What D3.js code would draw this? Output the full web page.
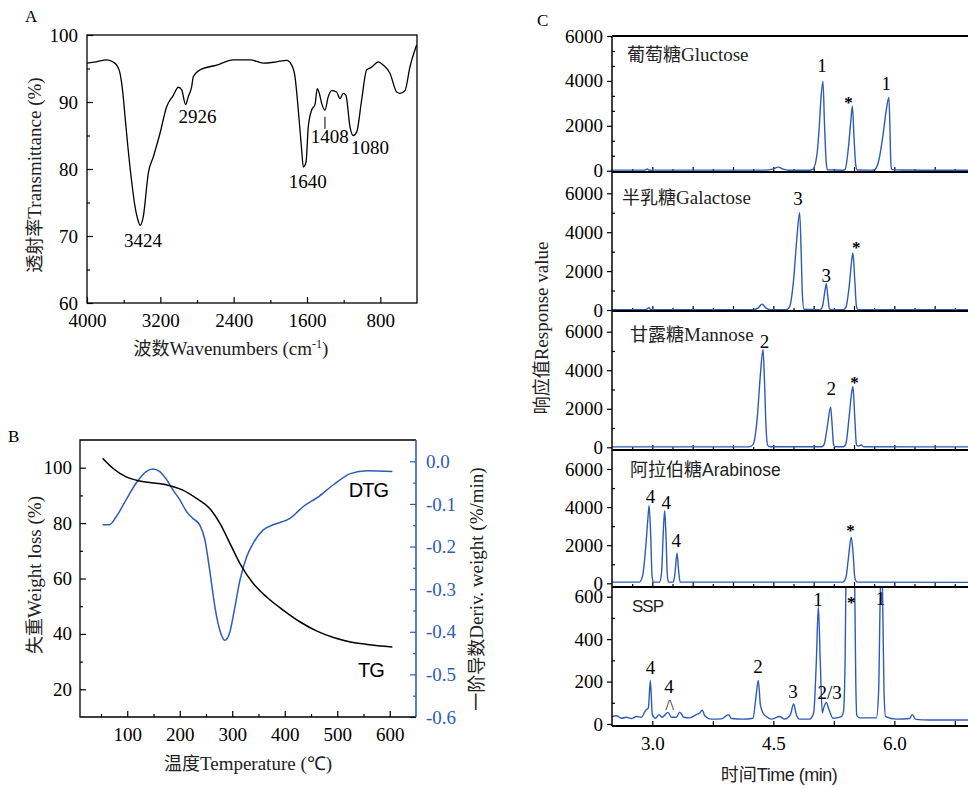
<!DOCTYPE html>
<html>
<head>
<meta charset="utf-8">
<script src="https://cdn.jsdelivr.net/npm/d3@7"></script>
<style>
  body { margin: 0; background: #fff; }
</style>
</head>
<body>
<svg id="chart" width="968" height="788"></svg>
<script>
// ---------- data ----------
// A: FTIR spectrum [wavenumber, transmittance %]
const ftirPoints = [
  [4000, 95.8], [3900, 96.0], [3785, 96.3], [3720, 96.0], [3676, 95.5], [3640, 94.3],
  [3610, 91.5], [3585, 87.8], [3531, 80.3], [3476, 74.4], [3440, 72.2], [3422, 71.6],
  [3386, 72.9], [3331, 79.4], [3277, 81.8], [3204, 85.3], [3131, 89.3], [3058, 91.0],
  [3004, 92.2], [2967, 91.8], [2924, 89.6], [2895, 90.8], [2858, 92.3], [2840, 93.8],
  [2767, 94.8], [2585, 95.5], [2404, 96.3], [2222, 96.3], [2076, 95.8], [1931, 96.0],
  [1822, 96.2], [1767, 95.5], [1731, 93.8], [1695, 88.8], [1658, 82.8], [1640, 80.3],
  [1611, 81.0], [1586, 86.3], [1549, 88.8], [1513, 89.6], [1488, 92.0], [1466, 91.3],
  [1440, 89.8], [1404, 88.8], [1368, 90.8], [1331, 91.7], [1277, 91.5], [1240, 90.5],
  [1204, 91.3], [1175, 91.0], [1131, 86.3], [1095, 85.0], [1058, 85.5], [1004, 90.3],
  [949, 94.8], [895, 95.2], [822, 96.0], [767, 95.5], [695, 94.3], [622, 91.5],
  [585, 91.3], [531, 91.7], [476, 95.3], [422, 97.8], [404, 98.5]
];
const ftirLabels = [["3424", 3389, 68.4], ["2926", 2795, 86.9], ["1640", 1592, 77.2],
                    ["1408", 1351, 83.9], ["1080", 913, 82.2]];
const ftirLeader = [[1404, 87.8], [1404, 86.0]];
const ftirXTicks = [4000, 3200, 2400, 1600, 800];
const ftirXMinor = [3600, 2800, 2000, 1200];
const ftirYTicks = [60, 70, 80, 90, 100];
const ftirYMinor = [65, 75, 85, 95];

// B: thermogravimetry [temperature, value]
const tgPoints = [
  [53, 103.4], [72.5, 99.8], [98, 96.7], [123.5, 95.2], [155.5, 94.4], [181, 93.5],
  [206, 91.9], [232, 88.9], [257, 85.3], [276.5, 79.9], [295.6, 72.7], [314.7, 65.4],
  [340, 58.2], [365.6, 53.3], [397.5, 48.5], [429.4, 44.3], [461.4, 41.0], [493, 38.7],
  [525, 37.1], [557, 36.2], [605, 35.3]
];
const dtgPoints = [
  [53, -0.149], [66, -0.149], [79, -0.130], [98, -0.090], [117, -0.051], [136, -0.024],
  [149, -0.018], [162, -0.024], [175, -0.043], [187, -0.067], [200, -0.090], [213, -0.118],
  [225, -0.134], [238, -0.149], [248, -0.185], [257, -0.255], [267, -0.342], [276.5, -0.397],
  [286, -0.420], [295.6, -0.400], [305, -0.342], [314.7, -0.279], [327.5, -0.224],
  [340, -0.192], [359, -0.161], [378, -0.149], [410, -0.134], [435.5, -0.106],
  [461, -0.086], [493, -0.055], [525, -0.029], [557, -0.022], [605, -0.024]
];
const tgLabels = [["DTG", 522, 89.4], ["TG", 539.5, 24.4]];
const tempTicks = [100, 200, 300, 400, 500, 600];
const tempMinor = [50, 150, 250, 350, 450, 550];
const wlTicks = [20, 40, 60, 80, 100];
const wlMinor = [30, 50, 70, 90];
const dtgTicks = [0, -0.1, -0.2, -0.3, -0.4, -0.5, -0.6];
const dtgMinor = [-0.05, -0.15, -0.25, -0.35, -0.45, -0.55];

// C: chromatograms [time min, response]
const glucoseTrace = [
  [2.50, 25], [2.90, 25], [2.94, 80], [2.96, 20], [3.00, 25], [4.40, 25], [4.50, 80],
  [4.56, 160], [4.62, 70], [4.70, 20], [4.95, 20], [4.99, 60], [5.04, 700], [5.07, 2000],
  [5.09, 3200], [5.115, 3970], [5.135, 2000], [5.155, 400], [5.17, 40], [5.36, 20],
  [5.39, 60], [5.43, 1000], [5.46, 2200], [5.48, 2870], [5.50, 1500], [5.52, 300],
  [5.54, 30], [5.72, 25], [5.76, 60], [5.81, 500], [5.86, 1600], [5.90, 2700],
  [5.932, 3260], [5.945, 2000], [5.955, 500], [5.965, 60], [6.10, 30], [6.50, 20], [7.0, 20]
];
const galactoseTrace = [
  [2.50, 20], [2.92, 20], [2.96, 120], [2.98, 20], [3.00, 20], [4.25, 20], [4.31, 100],
  [4.36, 300], [4.41, 100], [4.46, 20], [4.66, 20], [4.70, 150], [4.75, 1500], [4.79, 3600],
  [4.826, 5000], [4.845, 3000], [4.86, 800], [4.88, 40], [5.08, 20], [5.11, 200],
  [5.14, 1000], [5.157, 1350], [5.175, 700], [5.195, 80], [5.21, 20], [5.37, 20],
  [5.40, 150], [5.44, 1200], [5.47, 2500], [5.487, 2930], [5.51, 1500], [5.53, 200],
  [5.55, 20], [7.0, 15]
];
const mannoseTrace = [
  [2.50, 20], [4.20, 20], [4.25, 150], [4.30, 1500], [4.34, 3800], [4.372, 5070],
  [4.39, 3500], [4.41, 1000], [4.43, 100], [4.46, 30], [5.10, 25], [5.13, 150],
  [5.17, 1100], [5.21, 2090], [5.23, 1100], [5.245, 200], [5.26, 30], [5.37, 25],
  [5.40, 200], [5.44, 1600], [5.47, 2800], [5.487, 3160], [5.51, 1500], [5.53, 150],
  [5.55, 60], [5.59, 120], [5.62, 30], [7.0, 20]
];
const arabinoseTrace = [
  [2.50, 60], [2.84, 60], [2.88, 400], [2.92, 2000], [2.945, 3400], [2.96, 4070],
  [2.98, 2500], [2.995, 500], [3.01, 60], [3.09, 60], [3.115, 600], [3.135, 2600],
  [3.153, 3810], [3.17, 2400], [3.185, 500], [3.20, 60], [3.26, 60], [3.28, 500],
  [3.306, 1580], [3.325, 700], [3.345, 60], [5.36, 60], [5.40, 300], [5.43, 1300],
  [5.466, 2420], [5.49, 1500], [5.51, 300], [5.54, 60], [7.0, 50]
];
const sspTrace = [
  [2.50, 35], [2.554, 39], [2.616, 27], [2.678, 32], [2.740, 26], [2.802, 35], [2.864, 32],
  [2.918, 65], [2.951, 76], [2.975, 205], [3.000, 44], [3.041, 27], [3.083, 44], [3.124, 32],
  [3.194, 55], [3.236, 32], [3.298, 32], [3.339, 56], [3.389, 32], [3.463, 29], [3.545, 44],
  [3.587, 52], [3.620, 65], [3.649, 39], [3.731, 23], [3.855, 24], [3.946, 44], [3.979, 26],
  [4.124, 23], [4.248, 27], [4.281, 116], [4.314, 205], [4.339, 92], [4.372, 52],
  [4.413, 35], [4.475, 23], [4.578, 35], [4.640, 23], [4.711, 44], [4.752, 94], [4.785, 44],
  [4.826, 23], [4.950, 23], [5.000, 52], [5.033, 294], [5.058, 555], [5.082, 294],
  [5.107, 52], [5.124, 76], [5.157, 100], [5.190, 68], [5.240, 27], [5.343, 35],
  [5.370, 60], [5.390, 300], [5.42, 1500], [5.46, 3000], [5.505, 800], [5.522, 200],
  [5.535, 40], [5.570, 29], [5.777, 29], [5.805, 150], [5.825, 600], [5.84, 800],
  [5.855, 600], [5.872, 150], [5.892, 35], [6.024, 23], [6.190, 26], [6.223, 44],
  [6.264, 22], [6.437, 19], [6.909, 19], [7.0, 19]
];
const glucoseLabels = [["1", 5.102, 4400], ["*", 5.433, 2790], ["1", 5.90, 3600]];
const galactoseLabels = [["3", 4.805, 5400], ["3", 5.157, 1460], ["*", 5.529, 2930]];
const mannoseLabels = [["2", 4.392, 5150], ["2", 5.219, 2714], ["*", 5.507, 3077]];
const arabinoseLabels = [["4", 2.976, 4200], ["4", 3.174, 3885], ["4", 3.298, 1921], ["*", 5.458, 2483]];
const sspLabels = [["4", 2.976, 236], ["4", 3.206, 145], ["/\\", 3.215, 66], ["2", 4.309, 242],
                   ["3", 4.743, 121], ["1", 5.053, 556], ["2/3", 5.198, 116], ["*", 5.467, 547],
                   ["1", 5.83, 561]];
const sugarNames = [["葡萄糖", "Gluctose"], ["半乳糖", "Galactose"], ["甘露糖", "Mannose"],
                    ["阿拉伯糖", "Arabinose"], ["", "SSP"]];
const bigYTicks = [0, 2000, 4000, 6000];
const sspYTicks = [0, 200, 400, 600];
const timeLabelTicks = [3.0, 4.5, 6.0];
const timeSspTicks = [3.0, 3.75, 4.5, 5.25, 6.0, 6.75];

// ---------- setup ----------
const SERIF = '"Liberation Serif", "Times New Roman", serif';
const SANS = '"Liberation Sans", Arial, sans-serif';
const CJK = '"Noto Sans CJK SC", sans-serif';
const BLUE = "#2f5bb7";

const svg = d3.select("#chart");
svg.append("rect").attr("width", 968).attr("height", 788).attr("fill", "#fff");

function styleAxis(g, color, fs) {
  g.select(".domain").remove();
  g.attr("font-family", SERIF).attr("font-size", fs || 19);
  g.selectAll("line").attr("stroke", color || "#000").attr("stroke-width", 1.2);
  g.selectAll("text").attr("fill", color || "#000");
}
function panelLetter(x, y, t) {
  svg.append("text").attr("x", x).attr("y", y).attr("font-family", SERIF)
    .attr("font-size", 17).text(t);
}
const plainInt = d3.format("d");
const hyphenDec = d => d3.format(".1f")(d).replace("−", "-");

// ---------- Panel A ----------
const A = { left: 87, right: 417, top: 35, bottom: 303 };
const xA = d3.scaleLinear().domain([4000, 400]).range([A.left, A.right]);
const yA = d3.scaleLinear().domain([60, 100]).range([A.bottom, A.top]);
const gA = svg.append("g");

gA.append("g").attr("transform", `translate(0,${A.bottom})`)
  .call(d3.axisBottom(xA).tickValues(ftirXTicks).tickSize(-6).tickPadding(11).tickFormat(plainInt))
  .call(g => styleAxis(g));
gA.append("g").attr("transform", `translate(0,${A.bottom})`)
  .call(d3.axisBottom(xA).tickValues(ftirXMinor).tickSize(-3).tickFormat(""))
  .call(g => styleAxis(g));
gA.append("g").attr("transform", `translate(${A.left},0)`)
  .call(d3.axisLeft(yA).tickValues(ftirYTicks).tickSize(-6).tickPadding(9).tickFormat(plainInt))
  .call(g => styleAxis(g));
gA.append("g").attr("transform", `translate(${A.left},0)`)
  .call(d3.axisLeft(yA).tickValues(ftirYMinor).tickSize(-3).tickFormat(""))
  .call(g => styleAxis(g));
gA.append("rect").attr("x", A.left).attr("y", A.top)
  .attr("width", A.right - A.left).attr("height", A.bottom - A.top)
  .attr("fill", "none").attr("stroke", "#000").attr("stroke-width", 1.3);

gA.append("path").datum(ftirPoints)
  .attr("fill", "none").attr("stroke", "#000").attr("stroke-width", 1.3)
  .attr("d", d3.line().x(d => xA(d[0])).y(d => yA(d[1])).curve(d3.curveMonotoneX));
gA.append("path").datum(ftirLeader)
  .attr("stroke", "#000").attr("stroke-width", 1)
  .attr("d", d3.line().x(d => xA(d[0])).y(d => yA(d[1])));
gA.selectAll(".flab").data(ftirLabels).join("text")
  .attr("x", d => xA(d[1])).attr("y", d => yA(d[2]))
  .attr("text-anchor", "middle").attr("font-family", SERIF).attr("font-size", 19)
  .text(d => d[0]);

const axA = gA.append("text").attr("x", 231).attr("y", 355).attr("text-anchor", "middle")
  .attr("font-family", SERIF).attr("font-size", 19).attr("fill", "#222");
axA.append("tspan").attr("font-family", CJK).attr("font-size", 18).text("波数");
axA.append("tspan").text("Wavenumbers (cm");
axA.append("tspan").attr("dy", -7).attr("font-size", 12).text("-1");
axA.append("tspan").attr("dy", 7).text(")");
const ayA = gA.append("text").attr("transform", `translate(41,175) rotate(-90)`)
  .attr("text-anchor", "middle").attr("font-family", SERIF).attr("font-size", 19).attr("fill", "#222");
ayA.append("tspan").attr("font-family", CJK).attr("font-size", 18).text("透射率");
ayA.append("tspan").text("Transmittance (%)");
panelLetter(25, 22, "A");

// ---------- Panel B ----------
const B = { left: 80, right: 416, top: 440, bottom: 717 };
const xB = d3.scaleLinear().domain([10, 650]).range([B.left, B.right]);
const yB = d3.scaleLinear().domain([10, 110]).range([B.bottom, B.top]);
const yB2 = d3.scaleLinear().domain([-0.6, 0.05]).range([B.bottom, B.top]);
const gB = svg.append("g");

gB.append("g").attr("transform", `translate(0,${B.bottom})`)
  .call(d3.axisBottom(xB).tickValues(tempTicks).tickSize(-6).tickPadding(11).tickFormat(plainInt))
  .call(g => styleAxis(g));
gB.append("g").attr("transform", `translate(0,${B.bottom})`)
  .call(d3.axisBottom(xB).tickValues(tempMinor).tickSize(-3).tickFormat(""))
  .call(g => styleAxis(g));
gB.append("g").attr("transform", `translate(${B.left},0)`)
  .call(d3.axisLeft(yB).tickValues(wlTicks).tickSize(-6).tickPadding(8).tickFormat(plainInt))
  .call(g => styleAxis(g));
gB.append("g").attr("transform", `translate(${B.left},0)`)
  .call(d3.axisLeft(yB).tickValues(wlMinor).tickSize(-3).tickFormat(""))
  .call(g => styleAxis(g));
gB.append("g").attr("transform", `translate(${B.right},0)`)
  .call(d3.axisRight(yB2).tickValues(dtgTicks).tickSize(-6).tickPadding(10).tickFormat(hyphenDec))
  .call(g => styleAxis(g, BLUE));
gB.append("g").attr("transform", `translate(${B.right},0)`)
  .call(d3.axisRight(yB2).tickValues(dtgMinor).tickSize(-3).tickFormat(""))
  .call(g => styleAxis(g, BLUE));
// frame
gB.append("path").attr("fill", "none").attr("stroke", "#000").attr("stroke-width", 1.3)
  .attr("d", `M${B.right},${B.top}H${B.left}V${B.bottom}H${B.right}`);
gB.append("line").attr("x1", B.right).attr("x2", B.right).attr("y1", B.top).attr("y2", B.bottom)
  .attr("stroke", BLUE).attr("stroke-width", 1.6);

gB.append("path").datum(dtgPoints)
  .attr("fill", "none").attr("stroke", BLUE).attr("stroke-width", 1.5)
  .attr("d", d3.line().x(d => xB(d[0])).y(d => yB2(d[1])).curve(d3.curveMonotoneX));
gB.append("path").datum(tgPoints)
  .attr("fill", "none").attr("stroke", "#000").attr("stroke-width", 1.5)
  .attr("d", d3.line().x(d => xB(d[0])).y(d => yB(d[1])).curve(d3.curveMonotoneX));
gB.selectAll(".tlab").data(tgLabels).join("text")
  .attr("x", d => xB(d[1])).attr("y", d => yB(d[2]))
  .attr("font-family", SANS).attr("font-size", 20).attr("letter-spacing", -1)
  .text(d => d[0]);

const axB = gB.append("text").attr("x", 248).attr("y", 770).attr("text-anchor", "middle")
  .attr("font-family", SERIF).attr("font-size", 19).attr("fill", "#222");
axB.append("tspan").attr("font-family", CJK).attr("font-size", 18).text("温度");
axB.append("tspan").text("Temperature (℃)");
const ayB = gB.append("text").attr("transform", `translate(41,575) rotate(-90)`)
  .attr("text-anchor", "middle").attr("font-family", SERIF).attr("font-size", 19).attr("fill", "#222");
ayB.append("tspan").attr("font-family", CJK).attr("font-size", 18).text("失重");
ayB.append("tspan").text("Weight loss (%)");
const ayB2 = gB.append("text").attr("transform", `translate(483,589) rotate(-90)`)
  .attr("text-anchor", "middle").attr("font-family", SERIF).attr("font-size", 19).attr("fill", "#222");
ayB2.append("tspan").attr("font-family", CJK).attr("font-size", 18).text("一阶导数");
ayB2.append("tspan").text("Deriv. weight (%/min)");
panelLetter(8, 442, "B");

// ---------- Panel C ----------
const C = { left: 612, right: 975 };
const xC = d3.scaleLinear().domain([2.5, 7.0]).range([C.left, C.right]);
// layout per stacked panel: box top/bottom, pixel of 0 and of top tick
const cLayout = [
  { top: 36, bottom: 172, y0: 170.7, yMax: 36, nameX: 627, nameY: 61 },
  { top: 172, bottom: 311, y0: 310, yMax: 193.3, nameX: 622, nameY: 204 },
  { top: 311, bottom: 450, y0: 447.3, yMax: 331.7, nameX: 630, nameY: 341 },
  { top: 450, bottom: 587, y0: 583.3, yMax: 469, nameX: 630, nameY: 476 },
  { top: 587, bottom: 726, y0: 724, yMax: 596.7, nameX: 632, nameY: 612 }
];
const traces = [glucoseTrace, galactoseTrace, mannoseTrace, arabinoseTrace, sspTrace];
const peakLabels = [glucoseLabels, galactoseLabels, mannoseLabels, arabinoseLabels, sspLabels];
const sansNames = [false, false, false, true, true];
const gC = svg.append("g");
const defs = svg.append("defs");
const timeMinor = d3.range(2.75, 7.0, 0.5);
const timeMajor = d3.range(3.0, 7.01, 0.5);

cLayout.forEach((L, i) => {
  const isSsp = i === 4;
  const yTicks = isSsp ? sspYTicks : bigYTicks;
  const topTick = yTicks[yTicks.length - 1];
  const y = d3.scaleLinear().domain([0, topTick]).range([L.y0, L.yMax]);
  const step = yTicks[1] - yTicks[0];
  const nSub = i === 0 ? 3 : 2;
  const minor = d3.range(0, topTick, step / nSub).filter((v, k) => k % nSub !== 0);

  // left axis
  gC.append("g").attr("transform", `translate(${C.left},0)`)
    .call(d3.axisLeft(y).tickValues(yTicks).tickSize(5).tickPadding(4).tickFormat(plainInt))
    .call(g => styleAxis(g));
  gC.append("g").attr("transform", `translate(${C.left},0)`)
    .call(d3.axisLeft(y).tickValues(minor).tickSize(-3).tickFormat(""))
    .call(g => styleAxis(g));

  // bottom ticks
  if (isSsp) {
    gC.append("g").attr("transform", `translate(0,${L.bottom})`)
      .call(d3.axisBottom(xC).tickValues(timeSspTicks).tickSize(-5).tickPadding(11)
        .tickFormat(d => timeLabelTicks.includes(d) ? d3.format(".1f")(d) : ""))
      .call(g => styleAxis(g));
  } else {
    gC.append("g").attr("transform", `translate(0,${L.bottom})`)
      .call(d3.axisBottom(xC).tickValues(timeMajor).tickSize(-5).tickFormat(""))
      .call(g => styleAxis(g));
    gC.append("g").attr("transform", `translate(0,${L.bottom})`)
      .call(d3.axisBottom(xC).tickValues(timeMinor).tickSize(-3).tickFormat(""))
      .call(g => styleAxis(g));
  }

  // trace, clipped to the panel
  defs.append("clipPath").attr("id", "clipC" + i).append("rect")
    .attr("x", C.left).attr("y", L.top + 1).attr("width", 968 - C.left).attr("height", L.bottom - L.top - 1);
  gC.append("path").datum(traces[i]).attr("clip-path", `url(#clipC${i})`)
    .attr("fill", "none").attr("stroke", BLUE).attr("stroke-width", 1.4)
    .attr("d", d3.line().x(d => xC(d[0])).y(d => y(d[1])).curve(d3.curveMonotoneX));

  // peak labels
  gC.selectAll(".pl" + i).data(peakLabels[i]).join("text")
    .attr("x", d => xC(d[1])).attr("y", d => y(d[2]))
    .attr("text-anchor", "middle").attr("font-family", SERIF)
    .attr("font-size", d => d[0] === "*" ? 17 : (d[0] === "/\\" ? 15 : 19))
    .attr("font-weight", d => d[0] === "*" ? "bold" : "normal")
    .text(d => d[0]);

  // sugar name
  const nm = gC.append("text").attr("x", L.nameX).attr("y", L.nameY)
    .attr("font-size", 19).attr("fill", "#222");
  if (sugarNames[i][0]) nm.append("tspan").attr("font-family", CJK).attr("font-size", 18).text(sugarNames[i][0]);
  nm.append("tspan")
    .attr("font-family", sansNames[i] ? SANS : SERIF)
    .attr("font-size", sansNames[i] ? (isSsp ? 17 : 17.5) : 19)
    .attr("letter-spacing", isSsp ? -1 : 0)
    .text(sugarNames[i][1]);
});

// panel separators and left axis line
gC.selectAll(".sep").data(cLayout.map(d => d.top).concat([cLayout[4].bottom])).join("line")
  .attr("x1", C.left).attr("x2", 968).attr("y1", d => d).attr("y2", d => d)
  .attr("stroke", "#000").attr("stroke-width", 2);
gC.append("line").attr("x1", C.left).attr("x2", C.left)
  .attr("y1", cLayout[0].top).attr("y2", cLayout[4].bottom)
  .attr("stroke", "#000").attr("stroke-width", 1.5);

const axC = gC.append("text").attr("x", 779).attr("y", 781).attr("text-anchor", "middle")
  .attr("font-size", 19).attr("fill", "#222");
axC.append("tspan").attr("font-family", CJK).attr("font-size", 18).text("时间");
axC.append("tspan").attr("font-family", SANS).attr("font-size", 18).attr("letter-spacing", -0.5).text("Time (min)");
const ayC = gC.append("text").attr("transform", `translate(548,328) rotate(-90)`)
  .attr("text-anchor", "middle").attr("font-family", SERIF).attr("font-size", 19).attr("fill", "#222");
ayC.append("tspan").attr("font-family", CJK).attr("font-size", 18).text("响应值");
ayC.append("tspan").text("Response value");
panelLetter(537, 26, "C");
</script>
</body>
</html>
